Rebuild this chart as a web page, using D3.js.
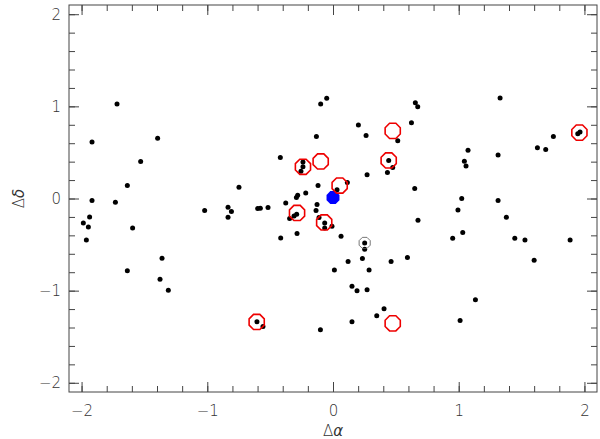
<!DOCTYPE html>
<html><head><meta charset="utf-8">
<script src="https://cdn.jsdelivr.net/npm/d3@7"></script>
<style>body{margin:0;background:#fff}svg{display:block}</style>
</head><body>
<script>
// ---- data ----
const dotX = [-1.718,-1.917,-1.395,-1.530,-1.636,-1.917,-1.731,-1.936,-1.986,-1.946,-1.594,-1.962,-1.360,-1.636,-1.376,-1.310,
 -0.050,-0.098,0.202,0.263,-0.132,0.515,-0.419,-0.239,-0.239,-0.255,0.271,0.443,0.475,0.433,0.624,0.655,0.674,0.650,
 -0.119,-0.217,0.032,0.114,-0.748,-0.281,-0.291,-0.376,-0.127,-0.135,-0.289,-0.310,-0.345,-0.517,-0.578,-0.599,-0.835,
 -0.808,-0.835,-1.021,-0.416,-0.286,-0.066,-0.066,-0.008,-0.111,0.064,0.676,0.252,0.252,0.120,0.234,0.462,0.592,0.011,
 0.287,0.151,0.191,0.271,0.406,0.348,0.151,-0.100,-0.605,-0.557,1.329,1.947,1.965,1.753,1.626,1.692,1.074,1.313,1.045,
 1.058,1.024,1.313,0.994,1.379,0.952,1.032,1.446,1.527,1.886,1.600,1.133,1.011];
const dotY = [1.025,0.612,0.655,0.402,0.141,-0.022,-0.040,-0.200,-0.265,-0.309,-0.319,-0.450,-0.649,-0.783,-0.877,-0.997,
 1.087,1.025,0.797,0.685,0.674,0.626,0.446,0.395,0.344,0.297,0.257,0.413,0.337,0.283,0.822,1.039,0.996,0.109,
 0.141,0.061,0.094,0.174,0.123,0.036,0.011,-0.050,-0.065,-0.130,-0.171,-0.190,-0.217,-0.098,-0.105,-0.109,-0.095,
 -0.141,-0.203,-0.130,-0.428,-0.380,-0.265,-0.320,-0.301,-0.207,-0.410,-0.236,-0.482,-0.551,-0.685,-0.652,-0.685,-0.641,-0.776,
 -0.776,-0.953,-1.000,-0.989,-1.196,-1.272,-1.337,-1.424,-1.337,-1.388,1.090,0.702,0.723,0.674,0.550,0.532,0.525,0.471,0.405,
 0.354,0.000,-0.022,-0.124,-0.203,-0.432,-0.370,-0.432,-0.450,-0.450,-0.671,-1.098,-1.323];
const redX = [-0.239,-0.098,0.475,0.443,0.053,-0.286,-0.070,1.960,-0.607,0.475];
const redY = [0.344,0.402,0.734,0.413,0.141,-0.157,-0.260,0.715,-1.340,-1.355];
const blueX = [0.0], blueY = [0.01];
const grayX = [0.252], grayY = [-0.482];
const majorTicks = [-2,-1,0,1,2];
const minorTicks = d3.range(-20,21,2).map(d=>d/10);
const xLabel = ["Δ","α"], yLabel = ["Δ","δ"];

// ---- layout ----
const W=600,H=439;
const L=69,R=597,T=5,B=392;
const x = d3.scaleLinear().domain([-2.1,2.1]).range([L,R]);
const y = d3.scaleLinear().domain([-2.1,2.1]).range([B,T]);
const svg = d3.select("body").append("svg").attr("width",W).attr("height",H);
const axisCol="#444", font="'DejaVu Sans', sans-serif", txtCol="#333";

function styleAxis(g){
  g.selectAll(".domain").remove();
  g.selectAll("line").attr("stroke",axisCol).attr("stroke-width",1);
  g.selectAll("text").attr("fill",txtCol).style("font-family",font).style("font-size","15px").style("font-weight","200");
}
// bottom
svg.append("g").attr("transform",`translate(0,${B})`).call(d3.axisBottom(x).tickValues(minorTicks).tickSize(-6).tickFormat("")).call(styleAxis);
svg.append("g").attr("transform",`translate(0,${B})`).call(d3.axisBottom(x).tickValues(majorTicks).tickSize(-10).tickPadding(13).tickFormat(d3.format("d"))).call(styleAxis);
// top
svg.append("g").attr("transform",`translate(0,${T})`).call(d3.axisTop(x).tickValues(minorTicks).tickSize(-6).tickFormat("")).call(styleAxis);
svg.append("g").attr("transform",`translate(0,${T})`).call(d3.axisTop(x).tickValues(majorTicks).tickSize(-10).tickFormat("")).call(styleAxis);
// left
svg.append("g").attr("transform",`translate(${L},0)`).call(d3.axisLeft(y).tickValues(minorTicks).tickSize(-6).tickFormat("")).call(styleAxis);
svg.append("g").attr("transform",`translate(${L},0)`).call(d3.axisLeft(y).tickValues(majorTicks).tickSize(-10).tickPadding(8).tickFormat(d3.format("d"))).call(styleAxis);
// right
svg.append("g").attr("transform",`translate(${R},0)`).call(d3.axisRight(y).tickValues(minorTicks).tickSize(-6).tickFormat("")).call(styleAxis);
svg.append("g").attr("transform",`translate(${R},0)`).call(d3.axisRight(y).tickValues(majorTicks).tickSize(-10).tickFormat("")).call(styleAxis);
// frame
svg.append("rect").attr("x",L).attr("y",T).attr("width",R-L).attr("height",B-T)
  .attr("fill","none").attr("stroke",axisCol).attr("stroke-width",1);

// axis titles
function title(sel,parts){
  sel.attr("text-anchor","middle").style("font-family",font).style("font-size","15px")
    .style("font-weight","200").attr("fill",txtCol);
  sel.append("tspan").text(parts[0]);
  sel.append("tspan").style("font-style","italic").text(parts[1]);
}
title(svg.append("text").attr("x",(L+R)/2).attr("y",436),xLabel);
title(svg.append("text").attr("transform",`translate(24,${(T+B)/2}) rotate(-90)`),yLabel);

// octagon path generator
function octagon(r){
  const pts=d3.range(8).map(i=>{const a=Math.PI/8+i*Math.PI/4;return [r*Math.cos(a),r*Math.sin(a)];});
  return d3.line()(pts)+"Z";
}
const dots = d3.range(dotX.length).map(i=>({x:dotX[i],y:dotY[i]}));
svg.append("g").selectAll("circle").data(dots).join("circle")
  .attr("cx",d=>x(d.x)).attr("cy",d=>y(d.y)).attr("r",2.5).attr("fill","#000");

const blue = blueX.map((v,i)=>({x:v,y:blueY[i]}));
svg.append("g").selectAll("path").data(blue).join("path")
  .attr("transform",d=>`translate(${x(d.x)},${y(d.y)})`).attr("d",octagon(7)).attr("fill","#0000ff");

const gray = grayX.map((v,i)=>({x:v,y:grayY[i]}));
svg.append("g").selectAll("path").data(gray).join("path")
  .attr("transform",d=>`translate(${x(d.x)},${y(d.y)})`).attr("d",octagon(6)).attr("fill","none")
  .attr("stroke","#555").attr("stroke-width",0.8);

const red = redX.map((v,i)=>({x:v,y:redY[i]}));
svg.append("g").selectAll("path").data(red).join("path")
  .attr("transform",d=>`translate(${x(d.x)},${y(d.y)})`).attr("d",octagon(8.2)).attr("fill","none")
  .attr("stroke","#ee0000").attr("stroke-width",1.6);
</script>
</body></html>
